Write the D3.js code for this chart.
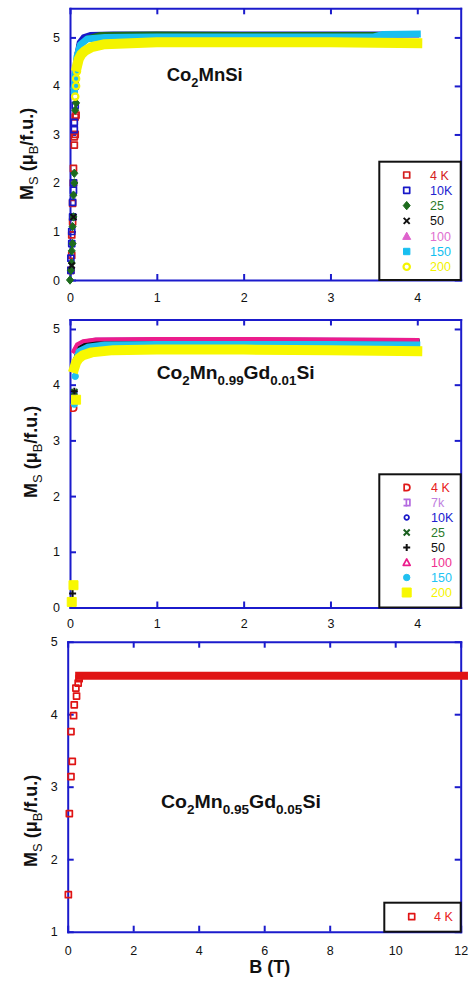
<!DOCTYPE html>
<html><head><meta charset="utf-8">
<script src="https://cdn.jsdelivr.net/npm/d3@7"></script>
<style>
body{margin:0;background:#fff}
svg{display:block}
text{font-family:"Liberation Sans",Arial,Helvetica,sans-serif}
</style>
</head><body>
<svg id="c" width="474" height="981"></svg>
<script>
// ---------------- DATA ----------------
// Panel 1: Co2MnSi
const p1Labels = ["4 K","10K","25","50","100","150","200"];
const p1RiseB = [
  [0.01,0.02,0.02,0.03,0.03,0.04,0.04,0.05,0.05,0.06,0.06,0.07],
  [0.01,0.01,0.02,0.02,0.03,0.03,0.04,0.04,0.05,0.05,0.06,0.06],
  [0.00,0.01,0.02,0.02,0.03,0.03,0.04,0.04,0.05,0.05,0.06,0.07],
  [0.02,0.04],
  [],
  [0.05,0.06],
  [0.06,0.07,0.07,0.08]
];
const p1RiseM = [
  [0.20,0.51,0.93,1.20,1.58,2.00,2.30,2.78,2.95,3.00,3.36,3.40],
  [0.20,0.45,0.75,1.00,1.30,1.60,1.85,2.00,3.10,3.25,3.60,4.00],
  [0.00,0.20,0.35,0.60,0.75,1.10,1.30,1.75,2.00,2.20,3.50,3.65],
  [0.30,1.30],
  [],
  [3.90,4.20],
  [3.78,4.00,4.15,4.30]
];
const p1PlatB = [
  [0.08,0.12,0.20,0.40,1,2,3,4],
  [0.06,0.10,0.15,0.23,0.5,1,2,3,4],
  [0.08,0.12,0.20,0.35,1,2,3,4],
  [0.10,0.20,0.40,1,2,3,4],
  [0.10,0.20,0.40,1,2,3,4],
  [0.05,0.08,0.12,0.20,0.40,1,2,3,3.5,3.6,4],
  [0.08,0.10,0.13,0.17,0.25,0.40,1,2,3,4]
];
const p1PlatM = [
  [4.70,4.90,5.00,5.05,5.06,5.06,5.06,5.06],
  [4.50,4.90,5.02,5.07,5.08,5.08,5.08,5.08,5.08],
  [4.50,4.85,5.00,5.07,5.08,5.07,5.07,5.07],
  [4.85,4.98,5.02,5.03,5.03,5.03,5.03],
  [4.80,4.96,5.01,5.02,5.02,5.02,5.02],
  [4.00,4.60,4.85,4.97,5.00,5.01,5.01,5.01,5.01,5.06,5.07],
  [4.40,4.55,4.65,4.72,4.80,4.86,4.90,4.90,4.90,4.88]
];

// Panel 2: Co2Mn0.99Gd0.01Si
const p2Labels = ["4 K","7k","10K","25","50","100","150","200"];
const p2RiseB = [
  [0.04],
  [],
  [0.05],
  [0.05],
  [0.03,0.05],
  [],
  [0.05,0.06],
  [0.02,0.04,0.07]
];
const p2RiseM = [
  [3.58],
  [],
  [3.85],
  [3.87],
  [0.25,3.88],
  [],
  [3.65,4.15],
  [0.10,0.40,3.73]
];
const p2PlatB = [
  [0.05,0.10,0.20,0.40,1,2,3,4],
  [0.04,0.08,0.15,0.30,1,2,3,4],
  [0.05,0.10,0.20,0.40,1,2,3,4],
  [0.05,0.10,0.20,0.40,1,2,3,4],
  [0.05,0.10,0.20,0.40,1,2,3,4],
  [0.04,0.08,0.15,0.30,1,2,3,4],
  [0.05,0.10,0.20,0.40,1,2,3,4],
  [0.05,0.07,0.10,0.15,0.25,0.50,1,2,3,4]
];
const p2PlatM = [
  [4.40,4.65,4.75,4.80,4.80,4.80,4.80,4.80],
  [4.60,4.70,4.77,4.81,4.82,4.82,4.81,4.80],
  [4.40,4.65,4.74,4.78,4.79,4.79,4.78,4.78],
  [4.40,4.65,4.74,4.78,4.78,4.78,4.78,4.78],
  [4.40,4.65,4.74,4.78,4.78,4.78,4.78,4.78],
  [4.60,4.72,4.78,4.81,4.82,4.82,4.81,4.80],
  [4.35,4.60,4.68,4.72,4.73,4.73,4.73,4.72],
  [4.30,4.40,4.47,4.53,4.58,4.62,4.63,4.63,4.62,4.60]
];

// Panel 3: Co2Mn0.95Gd0.05Si
const p3Labels = ["4 K"];
const p3RiseB = [[0.02,0.05,0.10,0.14,0.10,0.18,0.20,0.27,0.25,0.32,0.35]];
const p3RiseM = [[1.51,2.63,3.14,3.35,3.76,3.98,4.13,4.25,4.36,4.43,4.49]];
const p3PlatB = [[0.35,1,2,4,6,8,10,12.1]];
const p3PlatM = [[4.53,4.53,4.53,4.53,4.53,4.53,4.53,4.53]];

// tick values
const p1XTicks = [0,1,2,3,4], p1YTicks = [0,1,2,3,4,5];
const p2XTicks = [0,1,2,3,4], p2YTicks = [0,1,2,3,4,5];
const p3XTicks = [0,2,4,6,8,10,12], p3YTicks = [1,2,3,4,5];

// ---------------- STYLE ----------------
const AX = "#1b1bcc";
const p1Sym = ["rsq","sq","diamond","x","tri","fsq","circ"];
const p1Col = ["#d41c1c","#1818c8","#1d6b1d","#111111","#de62cc","#18bff0","#f4f400"];
const p1TxtCol = ["#d42020","#2222d0","#2a7a2a","#111111","#e070d0","#12c0f0","#f2f200"];
const p1PlatW = [4,4,4,3,3,7,10];
const p2Sym = ["D","bracket","ocirc","x","plus","otri","fcirc","bigsq"];
const p2Col = ["#e01818","#b46ae0","#1818c8","#1a6020","#111111","#ec1c8c","#20c0f0","#f8f800"];
const p2TxtCol = ["#e82020","#c080e0","#2020d0","#2a7a2a","#111111","#f03090","#22c4f4","#f4f400"];
const p2PlatW = [4,4,4,4,4,4,6,10];
const p3Sym = ["rsq"];
const p3Col = ["#e01414"];
const p3TxtCol = ["#e82020"];
const p3PlatW = [8];

const svg = d3.select("#c");

function symPath(type, h) {
  switch (type) {
    case "sq": case "rsq": case "fsq": case "bigsq":
      return `M${-h},${-h}H${h}V${h}H${-h}Z`;
    case "diamond": return `M0,${-h*1.2}L${h},0L0,${h*1.2}L${-h},0Z`;
    case "x": return `M${-h},${-h}L${h},${h}M${h},${-h}L${-h},${h}`;
    case "plus": return `M${-h},0H${h}M0,${-h}V${h}`;
    case "tri": case "otri": return `M0,${-h}L${h},${h*0.8}L${-h},${h*0.8}Z`;
    case "circ": case "ocirc": case "fcirc":
      return `M${h},0A${h},${h} 0 1 1 ${-h},0A${h},${h} 0 1 1 ${h},0Z`;
    case "D": return `M${-h*0.8},${-h}H0A${h},${h} 0 0 1 0,${h}H${-h*0.8}Z`;
    case "bracket": return `M${-h},${-h}H${h}V${h}H${-h}M${-h*0.1},${-h}V${h+1}`;
  }
}
function symStyle(sel, type, col) {
  const filled = ["diamond","tri","fsq","bigsq","fcirc"].includes(type);
  const line = ["x","plus"].includes(type);
  sel.attr("fill", filled ? col : "none")
     .attr("stroke", col)
     .attr("stroke-width", filled ? 1 : (line ? 2 : (type === "circ" ? 2.2 : 1.7)))
     .attr("stroke-linejoin", "round");
}
function symSize(type) {
  return {rsq:3,sq:3,fsq:3.2,bigsq:4.5,diamond:3.5,x:3,plus:3.5,tri:4,otri:3.5,circ:3.2,ocirc:2.3,fcirc:3.2,D:3.2,bracket:3.2}[type];
}

function drawYLabel(x, y) {
  const t = svg.append("text").attr("transform", `translate(${x},${y}) rotate(-90)`)
    .attr("font-size", 18).attr("font-weight", "bold").attr("fill", "#111");
  t.append("tspan").text("M");
  t.append("tspan").attr("dy", 5).attr("font-size", 13).attr("font-weight", "normal").text("S");
  t.append("tspan").attr("dy", -5).text(" (\u03bc");
  t.append("tspan").attr("dy", 5).attr("font-size", 13).attr("font-weight", "normal").text("B");
  t.append("tspan").attr("dy", -5).text("/f.u.)");
}

function drawTitle(x, y, parts, targetW) {
  const g = svg.append("g").attr("transform", `translate(${x},${y})`);
  const t = g.append("text").attr("font-size", 18).attr("font-weight", "bold").attr("fill", "#111");
  parts.forEach((p, i) => {
    const isSub = i % 2 === 1;
    t.append("tspan").attr("dy", isSub ? 6 : (i > 0 ? -6 : 0))
      .attr("font-size", isSub ? 12.5 : 18).text(p);
  });
  const w = t.node().getComputedTextLength();
  g.attr("transform", `translate(${x},${y}) scale(${targetW / w},1)`);
}

function drawPanel(c) {
  const x = d3.scaleLinear().domain(c.xDom).range([c.L, c.R]);
  const y = d3.scaleLinear().domain(c.yDom).range([c.B, c.T]);
  const g = svg.append("g");

  const styleAxis = a => {
    a.selectAll("path.domain").attr("stroke", AX).attr("stroke-width", 2).attr("stroke-linecap", "square");
    a.selectAll(".tick line").attr("stroke", AX).attr("stroke-width", 2);
    a.selectAll("text").attr("fill", "#111").attr("font-size", 12.5)
      .attr("font-family", '"Liberation Sans",Arial,sans-serif');
  };
  g.append("g").attr("transform", `translate(0,${c.B})`)
    .call(d3.axisBottom(x).tickValues(c.xTicks).tickSizeInner(-6).tickSizeOuter(0).tickPadding(c.xPad).tickFormat(d3.format("d")))
    .call(styleAxis);
  g.append("g").attr("transform", `translate(0,${c.T})`)
    .call(d3.axisTop(x).tickValues(c.xTicks).tickSizeInner(-6).tickSizeOuter(0).tickFormat(""))
    .call(styleAxis);
  g.append("g").attr("transform", `translate(${c.L},0)`)
    .call(d3.axisLeft(y).tickValues(c.yTicks).tickSizeInner(-6).tickSizeOuter(0).tickPadding(10).tickFormat(d3.format("d")))
    .call(styleAxis);
  g.append("g").attr("transform", `translate(${c.R},0)`)
    .call(d3.axisRight(y).tickValues(c.yTicks).tickSizeInner(-6).tickSizeOuter(0).tickFormat(""))
    .call(styleAxis);

  // series
  const line = d3.line().x(d => x(d[0])).y(d => y(d[1]));
  c.labels.forEach((lab, i) => {
    const sg = g.append("g");
    const plat = d3.zip(c.platB[i], c.platM[i]);
    sg.append("path").attr("d", line(plat)).attr("fill", "none")
      .attr("stroke", c.col[i]).attr("stroke-width", c.platW[i])
      .attr("stroke-linecap", "square").attr("stroke-linejoin", "round");
    const rise = d3.zip(c.riseB[i], c.riseM[i]);
    sg.selectAll("path.m").data(rise).join("path").attr("class", "m")
      .attr("transform", d => `translate(${x(d[0])},${y(d[1])})`)
      .attr("d", symPath(c.sym[i], symSize(c.sym[i])))
      .call(s => symStyle(s, c.sym[i], c.col[i]));
  });

  // legend
  const lg = svg.append("g");
  lg.append("rect").attr("x", c.lg.x0).attr("y", c.lg.y0)
    .attr("width", c.lg.x1 - c.lg.x0).attr("height", c.lg.y1 - c.lg.y0)
    .attr("fill", "#fff").attr("stroke", "#111").attr("stroke-width", 2);
  c.labels.forEach((lab, i) => {
    const yy = c.lg.rowY + i * c.lg.dy;
    lg.append("path").attr("transform", `translate(${c.lg.sx},${yy})`)
      .attr("d", symPath(c.sym[i], symSize(c.sym[i])))
      .call(s => symStyle(s, c.sym[i], c.col[i]));
    lg.append("text").attr("x", c.lg.tx).attr("y", yy).attr("dy", "0.36em")
      .attr("font-size", 12.5).attr("fill", c.txtCol[i]).text(lab);
  });
}

drawPanel({L:70, R:460.7, T:8.3, B:280, xDom:[0,4.5], yDom:[0,5.6], xTicks:p1XTicks, yTicks:p1YTicks, xPad:13,
  labels:p1Labels, riseB:p1RiseB, riseM:p1RiseM, platB:p1PlatB, platM:p1PlatM,
  sym:p1Sym, col:p1Col, txtCol:p1TxtCol, platW:p1PlatW,
  lg:{x0:379.3, x1:460.7, y0:161.7, y1:280, sx:406.7, tx:430, rowY:175, dy:15.3}});
drawPanel({L:70, R:460.7, T:319.5, B:607.5, xDom:[0,4.5], yDom:[0,5.17], xTicks:p2XTicks, yTicks:p2YTicks, xPad:12,
  labels:p2Labels, riseB:p2RiseB, riseM:p2RiseM, platB:p2PlatB, platM:p2PlatM,
  sym:p2Sym, col:p2Col, txtCol:p2TxtCol, platW:p2PlatW,
  lg:{x0:379.3, x1:460.7, y0:474.3, y1:607.5, sx:406.7, tx:431, rowY:487.5, dy:15}});
drawPanel({L:67.7, R:460.7, T:641.7, B:931.7, xDom:[0,12], yDom:[1,5], xTicks:p3XTicks, yTicks:p3YTicks, xPad:14,
  labels:p3Labels, riseB:p3RiseB, riseM:p3RiseM, platB:p3PlatB, platM:p3PlatM,
  sym:p3Sym, col:p3Col, txtCol:p3TxtCol, platW:p3PlatW,
  lg:{x0:384.3, x1:460.7, y0:902.7, y1:931.7, sx:411.7, tx:434, rowY:916.7, dy:15}});

drawYLabel(33, 200);
drawYLabel(37, 498);
drawYLabel(37, 867);

drawTitle(166.7, 81, ["Co","2","MnSi"], 76);
drawTitle(156.7, 378.5, ["Co","2","Mn","0.99","Gd","0.01","Si"], 158);
drawTitle(161, 808, ["Co","2","Mn","0.95","Gd","0.05","Si"], 160);

svg.append("text").attr("x", 249.3).attr("y", 973).attr("font-size", 18).attr("font-weight", "bold")
  .attr("fill", "#111").text("B (T)");
</script>
</body></html>
